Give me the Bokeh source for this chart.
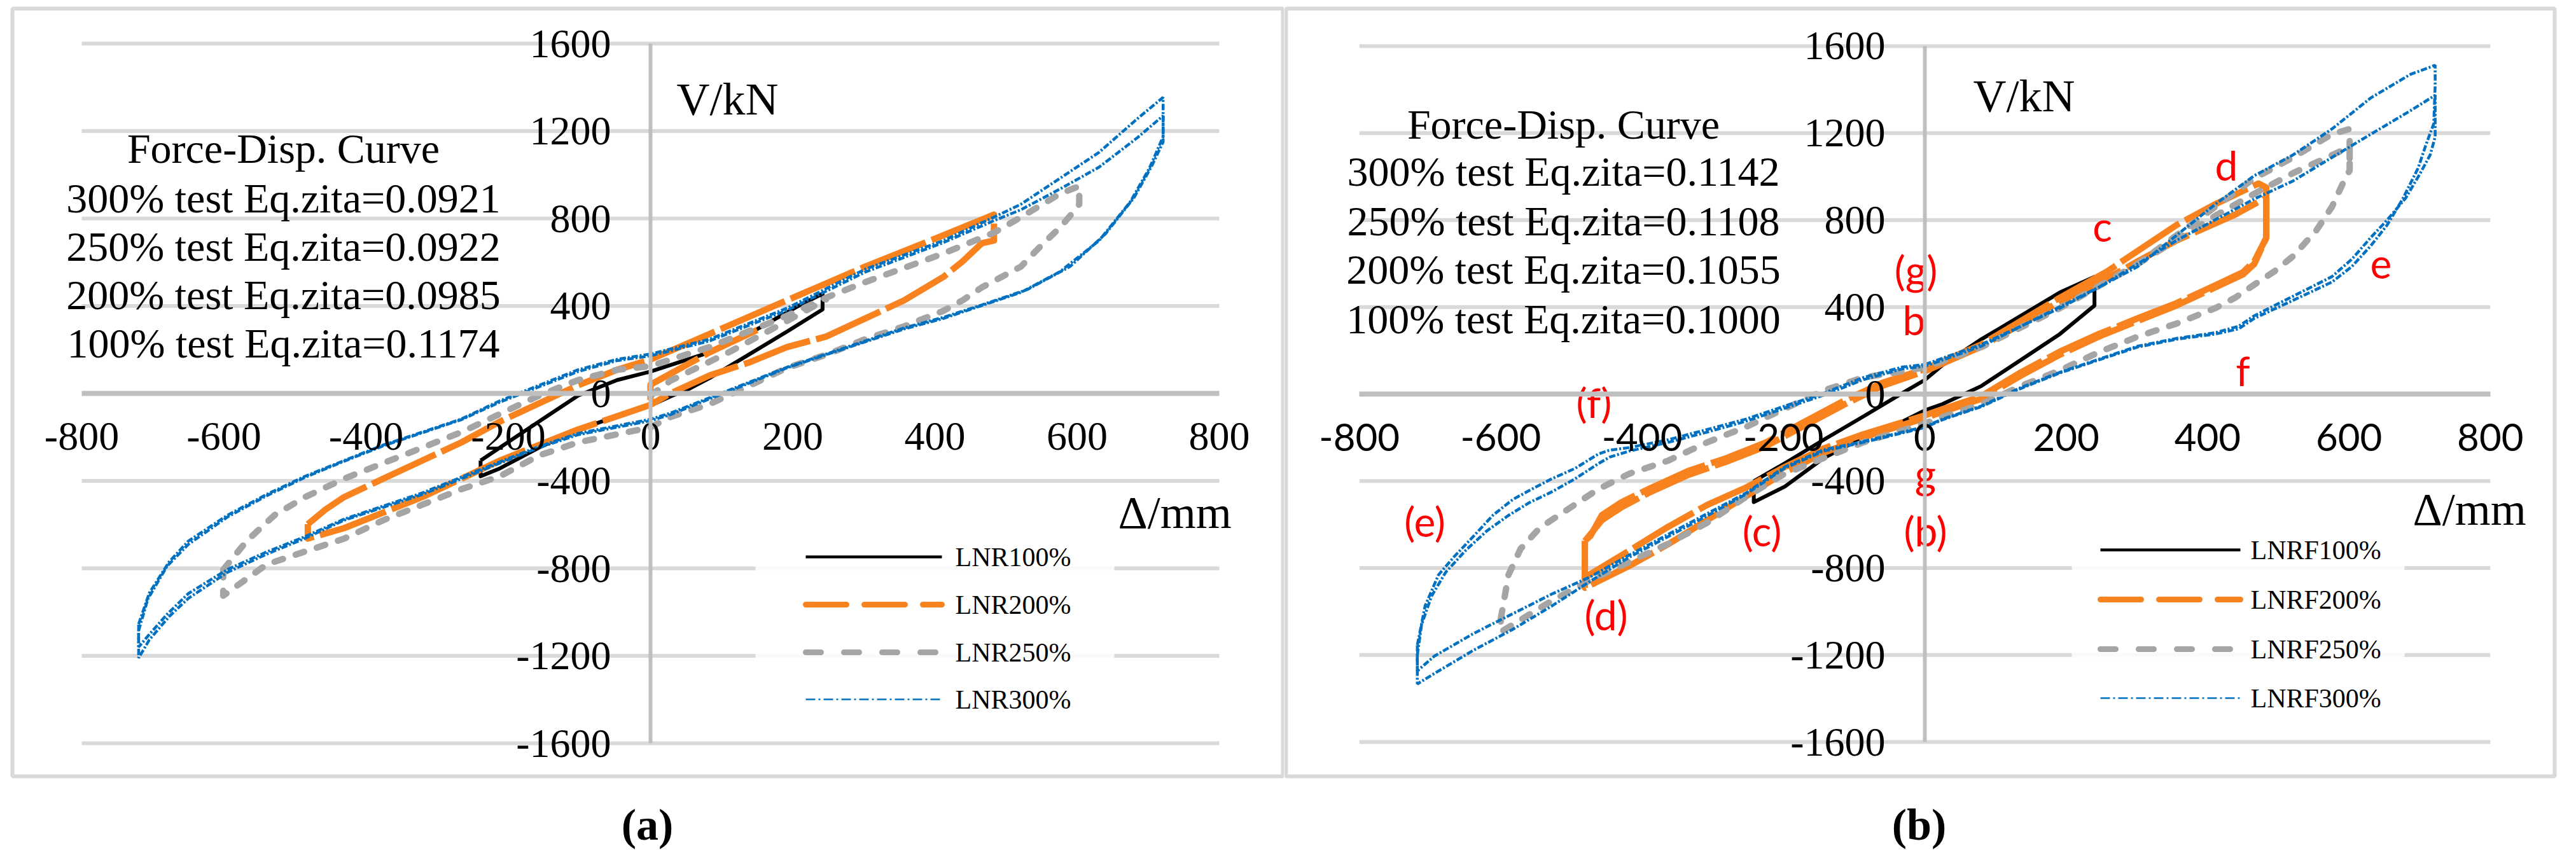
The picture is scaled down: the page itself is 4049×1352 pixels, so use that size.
from bokeh.plotting import figure
from bokeh.layouts import row
from bokeh.models import LinearAxis, FixedTicker, Label
from bokeh.embed import file_html
from bokeh.resources import INLINE
from bokeh.core.properties import value

# ---------------- data ----------------
x_ticks = [-800, -600, -400, -200, 0, 200, 400, 600, 800]
x_tick_labels = ["-800", "-600", "-400", "-200", "0", "200", "400", "600", "800"]
y_ticks = [-1600, -1200, -800, -400, 0, 400, 800, 1200, 1600]
y_tick_labels = ["-1600", "-1200", "-800", "-400", "0", "400", "800", "1200", "1600"]

series_a = ["LNR100%", "LNR200%", "LNR250%", "LNR300%"]
series_b = ["LNRF100%", "LNRF200%", "LNRF250%", "LNRF300%"]

notes_a = ["Force-Disp. Curve", "300% test Eq.zita=0.0921", "250% test Eq.zita=0.0922",
           "200% test Eq.zita=0.0985", "100% test Eq.zita=0.1174"]
notes_b = ["Force-Disp. Curve", "300% test Eq.zita=0.1142", "250% test Eq.zita=0.1108",
           "200% test Eq.zita=0.1055", "100% test Eq.zita=0.1000"]

red_labels = ["d", "c", "(g)", "b", "e", "f", "(f)", "g", "(e)", "(c)", "(b)", "(d)"]

# panel (a): (displacement mm, force kN)
A100_up = [(-239, -307), (-212, -248), (-157, -129), (-102, -10), (-47, 61), (0, 100), (83, 188),
           (138, 272), (209, 402), (242, 456)]
A100_lo = [(242, 384), (192, 283), (138, 177), (83, 70), (55, 22), (28, -14), (0, -55), (-47, -105),
           (-102, -165), (-157, -248), (-212, -343), (-239, -379)]

A200_up = [(-482, -598), (-458, -533), (-431, -474), (-376, -390), (-321, -307), (-266, -224),
           (-212, -129), (-157, -46), (-102, 37), (-47, 108), (0, 155), (83, 272), (192, 426),
           (302, 580), (412, 723), (483, 818)]
A200_lo = [(483, 699), (466, 687), (439, 604), (412, 533), (357, 426), (302, 343), (247, 260),
           (192, 212), (138, 141), (83, 82), (28, 0), (0, -52), (-102, -165), (-157, -236),
           (-212, -307), (-266, -390), (-321, -474), (-376, -545), (-431, -616), (-482, -664)]
A200_start = [(0, -30), (0, 40), (83, 188), (150, 290)]

A250_up = [(-601, -806), (-568, -675), (-529, -557), (-486, -474), (-431, -390), (-376, -319),
           (-321, -248), (-266, -177), (-212, -94), (-157, -10), (-102, 61), (-47, 108), (0, 125),
           (83, 212), (192, 355), (247, 438), (302, 509), (412, 640), (483, 735), (521, 806),
           (576, 913), (603, 948)]
A250_lo = [(603, 865), (598, 842), (576, 759), (549, 675), (521, 580), (494, 533), (466, 485),
           (439, 426), (412, 378), (357, 307), (302, 248), (247, 177), (192, 117), (138, 34),
           (83, -49), (28, -108), (0, -155), (-102, -224), (-157, -284), (-212, -379), (-266, -438),
           (-321, -509), (-376, -580), (-431, -664), (-486, -723), (-540, -782), (-601, -925)]
A250_start = [(0, -10), (28, 58), (110, 188), (192, 331), (247, 430)]

A300_up1 = [(-720, -1055), (-705, -913), (-677, -770), (-650, -675), (-595, -557), (-540, -462),
            (-486, -379), (-431, -307), (-376, -236), (-321, -177), (-266, -117), (-212, -34),
            (-157, 37), (-102, 108), (-47, 156), (0, 180), (83, 248), (192, 390), (302, 568),
            (412, 699), (483, 806), (521, 865), (576, 984), (631, 1103), (685, 1257), (721, 1354)]
A300_lo1 = [(721, 1174), (702, 1032), (675, 877), (631, 699), (576, 557), (521, 462), (466, 402),
            (412, 343), (357, 295), (302, 236), (247, 177), (192, 117), (138, 46), (83, -25),
            (28, -97), (0, -125), (-102, -189), (-157, -248), (-212, -319), (-266, -390),
            (-321, -462), (-376, -521), (-431, -580), (-486, -663), (-540, -735), (-595, -818),
            (-650, -937), (-677, -1020), (-705, -1127), (-720, -1210)]
A300_up2 = [(-720, -1085), (-707, -940), (-680, -790), (-650, -690), (-595, -565), (-540, -468),
            (-486, -384), (-431, -310), (-376, -240), (-321, -180), (-266, -120), (-212, -40),
            (-157, 30), (-102, 100), (-47, 150), (0, 172), (83, 240), (192, 380), (302, 555),
            (412, 690), (483, 790), (521, 840), (576, 935), (631, 1035), (685, 1170), (721, 1270)]
A300_lo2 = [(721, 1150), (705, 1040), (680, 895), (640, 730), (590, 580), (530, 475), (466, 405),
            (412, 348), (357, 300), (302, 240), (247, 180), (192, 120), (138, 50), (83, -20),
            (28, -90), (0, -118), (-102, -183), (-157, -243), (-212, -313), (-266, -383),
            (-321, -455), (-376, -515), (-431, -575), (-486, -655), (-540, -725), (-595, -805),
            (-650, -915), (-680, -1010), (-707, -1110), (-720, -1160)]

# panel (b)
B100_up = [(-242, -401), (-198, -318), (-143, -210), (-87, -103), (-32, 4), (0, 65), (25, 133),
           (80, 252), (136, 360), (191, 467), (240, 539)]
B100_lo = [(240, 407), (191, 276), (136, 157), (80, 37), (25, -46), (0, -75), (-32, -127),
           (-87, -199), (-143, -294), (-198, -425), (-242, -497)]

B200_up1 = [(-481, -676), (-473, -652), (-457, -557), (-429, -497), (-391, -437), (-335, -354),
            (-280, -294), (-225, -223), (-170, -127), (-115, -32), (-60, 52), (0, 115), (80, 228),
            (136, 336), (191, 443), (257, 562), (301, 658), (356, 777), (411, 873), (472, 968),
            (483, 950)]
B200_lo1 = [(483, 718), (466, 598), (450, 550), (411, 491), (356, 407), (301, 336), (246, 264),
            (191, 181), (136, 85), (80, -22), (25, -82), (0, -110), (-87, -199), (-143, -270),
            (-198, -360), (-253, -470), (-308, -580), (-363, -690), (-418, -790), (-481, -891)]
B200_up2 = [(-481, -676), (-457, -580), (-429, -520), (-391, -455), (-335, -372), (-280, -310),
            (-225, -240), (-170, -145), (-115, -50), (-60, 38), (0, 105), (80, 218), (136, 322),
            (191, 425), (246, 510), (301, 610), (356, 706), (439, 825), (483, 903)]
B200_lo2 = [(483, 718), (466, 610), (450, 560), (411, 500), (356, 418), (301, 348), (246, 276),
            (191, 195), (136, 100), (80, -10), (25, -70), (0, -98), (-87, -185), (-143, -250),
            (-198, -335), (-253, -430), (-308, -510), (-363, -610), (-418, -720), (-481, -843)]

B250_up = [(-600, -1034), (-589, -831), (-572, -712), (-545, -616), (-501, -521), (-462, -437),
           (-418, -366), (-363, -306), (-308, -222), (-253, -151), (-198, -67), (-143, 17),
           (-87, 76), (0, 122), (80, 216), (191, 395), (301, 598), (411, 861), (466, 992),
           (521, 1088), (576, 1195), (601, 1219)]
B250_lo = [(601, 1028), (593, 980), (576, 861), (554, 753), (521, 634), (494, 563), (466, 503),
           (439, 443), (411, 395), (356, 324), (301, 264), (246, 192), (191, 109), (136, 37),
           (80, -46), (25, -106), (0, -135), (-87, -222), (-143, -294), (-198, -366), (-253, -473),
           (-308, -592), (-363, -688), (-418, -771), (-473, -855), (-528, -951), (-600, -1094)]
B250_second = [(301, 598), (411, 820), (466, 921), (521, 1016), (601, 1136), (601, 1028)]

B300_up1 = [(-718, -1154), (-707, -974), (-688, -831), (-666, -748), (-638, -652), (-611, -557),
            (-583, -485), (-556, -437), (-528, -390), (-495, -342), (-462, -276), (-446, -258),
            (-418, -246), (-363, -210), (-308, -163), (-253, -115), (-198, -55), (-143, 4),
            (-87, 76), (-32, 124), (0, 136), (80, 228), (191, 395), (301, 586), (411, 873),
            (466, 1004), (521, 1100), (576, 1219), (631, 1362), (687, 1470), (722, 1512)]
B300_lo1 = [(722, 1420), (720, 1243), (709, 1147), (698, 1040), (676, 897), (654, 777), (631, 682),
            (604, 586), (576, 515), (521, 431), (466, 348), (444, 300), (411, 276), (356, 252),
            (301, 216), (246, 157), (191, 97), (136, 26), (80, -58), (25, -118), (0, -154),
            (-87, -222), (-143, -262), (-198, -340), (-253, -460), (-308, -560), (-363, -655),
            (-418, -750), (-473, -860), (-528, -975), (-583, -1082), (-638, -1177), (-694, -1285),
            (-718, -1333)]
B300_up2 = [(-718, -1200), (-712, -1060), (-698, -930), (-678, -820), (-650, -720), (-620, -630),
            (-590, -560), (-560, -500), (-528, -450), (-495, -390), (-462, -320), (-446, -290),
            (-418, -262), (-363, -222), (-308, -175), (-253, -125), (-198, -65), (-143, -5),
            (-87, 66), (-32, 116), (0, 128), (80, 220), (246, 491), (356, 706), (466, 897),
            (521, 980), (576, 1088), (631, 1195), (687, 1303), (722, 1374)]
B300_lo2 = [(722, 1183), (715, 1100), (700, 1010), (680, 900), (654, 800), (631, 720), (604, 620),
            (576, 540), (521, 450), (466, 360), (444, 312), (411, 282), (356, 256), (301, 220),
            (246, 160), (191, 100), (136, 30), (80, -55), (25, -115), (0, -150), (-87, -218),
            (-143, -256), (-198, -335), (-253, -455), (-308, -550), (-363, -645), (-418, -740),
            (-473, -840), (-528, -920), (-583, -1010), (-638, -1100), (-694, -1205), (-718, -1273)]

# ---------------- styles ----------------
SERIF = "Liberation Serif"
SANS = "Lato"
C_BLACK, C_ORANGE, C_GRAY, C_BLUE = "#000000", "#F7821E", "#A5A5A5", "#0070C0"
STY = [  # plotted curves (noisy test data looks heavy)
    dict(line_color=C_BLACK, line_width=6, line_join="round"),
    dict(line_color=C_ORANGE, line_width=10, line_dash="110 10", line_join="round"),
    dict(line_color=C_GRAY, line_width=10, line_dash="14 21", line_cap="round", line_join="round"),
    dict(line_color=C_BLUE, line_width=4.5, line_dash="10 3 3 3"),
]
LEG = [  # legend samples
    dict(line_color=C_BLACK, line_width=4.5),
    dict(line_color=C_ORANGE, line_width=9, line_dash="64 28", line_cap="round"),
    dict(line_color=C_GRAY, line_width=9, line_dash="24 36", line_cap="round"),
    dict(line_color=C_BLUE, line_width=2.5, line_dash="15 5 3 5"),
]

W_A, W_B, H = 2018, 2015, 1336
TOP = 8
GA = dict(left=8, w=W_A, x0=1030.0, kx=1.1175, y0=626.0, ky=0.34375)
GB = dict(left=2026, w=W_B, x0=3033.0, kx=1.111, y0=627.0, ky=0.3419)


def px2x(g, px):
    return (px - g["x0"]) / g["kx"]


def py2y(g, py):
    return (g["y0"] - py) / g["ky"]


def loop(up, lo):
    pts = up + lo + [up[0]]
    return [p[0] for p in pts], [p[1] for p in pts]


def xs(pts):
    return [p[0] for p in pts]


def ys(pts):
    return [p[1] for p in pts]


def make_panel(g, frame_px, legend_px, notes, notes_xy, labels, tick_font, title_pos,
               caption, cap_pos):
    p = figure(width=g["w"], height=H, output_backend="svg", toolbar_location=None,
               x_range=(px2x(g, g["left"]), px2x(g, g["left"] + g["w"])),
               y_range=(py2y(g, TOP + H), py2y(g, TOP)),
               x_axis_location=None, y_axis_location=None, min_border=0)
    p.outline_line_color = None
    p.xgrid.visible = False
    p.ygrid.visible = False
    p.background_fill_color = "white"
    p.border_fill_color = "white"

    # chart-area border
    fl, ft, fr, fb = frame_px
    p.quad(left=[px2x(g, fl)], right=[px2x(g, fr)], top=[py2y(g, ft)], bottom=[py2y(g, fb)],
           fill_color=None, line_color="#D9D9D9", line_width=6)

    # horizontal gridlines
    gy = [v for v in y_ticks if v != 0]
    p.segment(x0=[x_ticks[0]] * len(gy), x1=[x_ticks[-1]] * len(gy), y0=gy, y1=gy,
              line_color="#D9D9D9", line_width=6)

    # axes crossing at the origin
    xa = LinearAxis(fixed_location=0, ticker=FixedTicker(ticks=x_ticks),
                    bounds=(x_ticks[0], x_ticks[-1]),
                    major_label_overrides={t: s for t, s in zip(x_ticks, x_tick_labels)},
                    major_tick_line_color=None, minor_tick_line_color=None,
                    axis_line_color="#BFBFBF", axis_line_width=8,
                    major_label_standoff=40, major_label_text_font=tick_font,
                    major_label_text_font_size="64px" if tick_font == SERIF else "60px",
                    major_label_text_color="black")
    p.add_layout(xa, "below")
    ya = LinearAxis(fixed_location=0, ticker=FixedTicker(ticks=y_ticks),
                    bounds=(y_ticks[0], y_ticks[-1]),
                    major_label_overrides={t: s for t, s in zip(y_ticks, y_tick_labels)},
                    major_tick_line_color=None, minor_tick_line_color=None,
                    axis_line_color="#BFBFBF", axis_line_width=6,
                    major_label_standoff=56, major_label_text_font=SERIF,
                    major_label_text_font_size="64px", major_label_text_color="black")
    p.add_layout(ya, "left")

    # legend box
    ll, lt, lr, lb, lx0, lx1, ltx, rows = legend_px
    p.quad(left=[px2x(g, ll)], right=[px2x(g, lr)], top=[py2y(g, lt)], bottom=[py2y(g, lb)],
           fill_color="white", fill_alpha=0.85, line_color=None)
    for i, lab in enumerate(labels):
        yy = py2y(g, rows[i])
        p.segment(x0=[px2x(g, lx0)], x1=[px2x(g, lx1)], y0=[yy], y1=[yy], **LEG[i])
        p.text(x=[px2x(g, ltx)], y=[yy], text=[lab], text_font=value(SERIF),
               text_font_size=value("42px"), text_align="left", text_baseline="middle",
               text_color="black")

    # note block
    nx, nys = notes_xy
    p.text(x=[px2x(g, nx)] * len(notes), y=[py2y(g, v) for v in nys], text=notes,
           text_font=value(SERIF), text_font_size=value("66px"), text_align="center",
           text_baseline="alphabetic", text_color="black")

    # axis titles
    (vx, vy), (dxp, dyp) = title_pos
    p.text(x=[px2x(g, vx)], y=[py2y(g, vy)], text=["V/kN"], text_font=value(SERIF),
           text_font_size=value("72px"), text_align="left", text_baseline="alphabetic",
           text_color="black")
    p.text(x=[px2x(g, dxp)], y=[py2y(g, dyp)], text=["\u0394/mm"], text_font=value(SERIF),
           text_font_size=value("72px"), text_align="left", text_baseline="alphabetic",
           text_color="black")

    # caption below the chart area
    cx, cy = cap_pos
    p.add_layout(Label(x=px2x(g, cx), y=py2y(g, cy), x_units="data", y_units="data",
                       text=caption, text_font=SERIF, text_font_size="70px",
                       text_font_style="bold", text_align="center",
                       text_baseline="alphabetic", text_color="black"))
    return p


pa = make_panel(GA, (27, 21, 2024, 1228),
                (1195, 840, 1759, 1150, 1274, 1488, 1509, [883, 958, 1033, 1107]),
                notes_a, (453, [241, 319, 395, 471, 547]), series_a, SERIF,
                ((1071, 163), (1765, 813)), "(a)", (1025, 1304))
pb = make_panel(GB, (2029, 21, 4023, 1228),
                (3264, 830, 3787, 1150, 3309, 3529, 3545, [872, 950, 1028, 1105]),
                notes_b, (2465, [203, 277, 355, 431, 509]), series_b, SANS,
                ((3109, 158), (3800, 808)), "(b)", (3024, 1304))

# ---- series panel (a)
x, y = loop(A100_up, A100_lo)
pa.line(x, y, **STY[0])
x, y = loop(A200_up, A200_lo)
pa.line(x, y, **STY[1])
pa.line(xs(A200_start), ys(A200_start), **STY[1])
x, y = loop(A250_up, A250_lo)
pa.line(x, y, **STY[2])
pa.line(xs(A250_start), ys(A250_start), **STY[2])
x, y = loop(A300_up1, A300_lo1)
pa.line(x, y, **STY[3])
x, y = loop(A300_up2, A300_lo2)
pa.line(x, y, **STY[3])

# ---- series panel (b)
x, y = loop(B100_up, B100_lo)
pb.line(x, y, **STY[0])
x, y = loop(B200_up1, B200_lo1)
pb.line(x, y, **STY[1])
x, y = loop(B200_up2, B200_lo2)
pb.line(x, y, **STY[1])
x, y = loop(B250_up, B250_lo)
pb.line(x, y, **STY[2])
pb.line(xs(B250_second), ys(B250_second), **STY[2])
x, y = loop(B300_up1, B300_lo1)
pb.line(x, y, **STY[3])
x, y = loop(B300_up2, B300_lo2)
pb.line(x, y, **STY[3])

# red annotations in (b) (page-pixel anchors of baselines)
red_px = [(3507, 267), (3312, 363), (3019, 432), (3016, 510), (3750, 422), (3533, 590),
          (2513, 640), (3034, 752), (2247, 827), (2777, 842), (3034, 842), (2532, 974)]
pb.text(x=[px2x(GB, a) for a, b in red_px], y=[py2y(GB, b) for a, b in red_px], text=red_labels,
        text_font=value(SANS), text_font_size=value("64px"), text_align="center",
        text_baseline="alphabetic", text_color="#FF0000")

layout = row(pa, pb)
open("out.html", "w").write(file_html(layout, INLINE))
